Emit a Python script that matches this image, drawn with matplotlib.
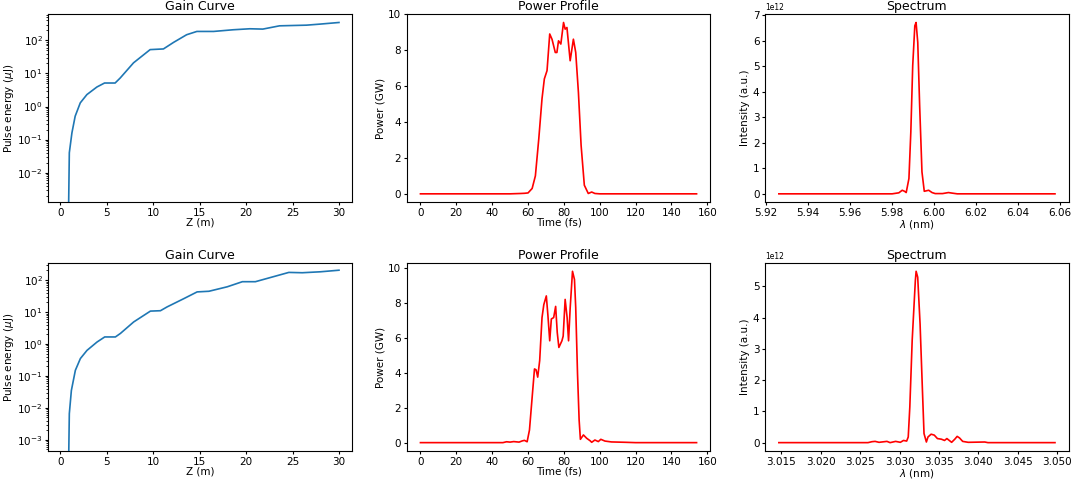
import matplotlib
matplotlib.use("Agg")
import matplotlib.pyplot as plt

# gain curves (z in m, energy in uJ)
z_top = [0.80, 0.97, 1.25, 1.6, 2.15, 2.86, 3.94, 4.76, 5.9, 6.44, 7.88, 9.67, 11.1,
         12.2, 13.6, 14.7, 16.5, 18.6, 20.4, 21.8, 23.6, 26.5, 27.9, 30.0]
e_top = [1e-5, 0.04, 0.16, 0.51, 1.29, 2.29, 3.89, 5.13, 5.13, 7.24, 20.9, 52.5, 55.0,
         87.1, 148, 186, 186, 209, 224, 219, 275, 288, 309, 347]

z_bot = [0.83, 0.97, 1.19, 1.62, 2.16, 2.87, 3.95, 4.78, 5.93, 6.47, 7.9, 9.7, 10.78,
         11.5, 13.3, 14.73, 16.0, 17.97, 19.6, 21.0, 22.6, 24.6, 26.05, 28.0, 30.0]
e_bot = [1e-5, 0.0066, 0.035, 0.15, 0.35, 0.63, 1.15, 1.66, 1.66, 2.14, 4.9, 10.7, 11.0,
         14.5, 26.3, 42.7, 44.7, 61.7, 89.1, 89.1, 120, 174, 170, 182, 204]

# power profiles (time in fs, power in GW)
t_top = [0, 50, 56, 58, 60, 62.3, 64.1, 66, 67.8, 69.1, 70.6, 72.1, 73.4, 75.2, 76.1,
         77, 78.3, 79.8, 80.7, 81.7, 83.5, 85.3, 86.6, 88.1, 89.6, 91.4, 93.6, 95.5,
         97.3, 100, 154]
p_top = [0, 0, 0.02, 0.03, 0.05, 0.3, 1.0, 3.07, 5.3, 6.4, 6.86, 8.9, 8.6, 7.87, 7.87,
         8.52, 8.34, 9.54, 9.17, 9.26, 7.41, 8.61, 7.87, 5.65, 2.7, 0.48, 0.02, 0.1,
         0.02, 0, 0]

t_bot = [0, 46, 48, 50, 52, 55, 56.8, 58, 59.5, 60.8, 62.3, 63.6, 64.5, 65.4, 66.5,
         67.8, 68.8, 70.2, 71.1, 72.1, 73, 74.3, 75.4, 76.3, 77.2, 78.9, 79.6, 80.7,
         81.8, 82.6, 83.5, 84.8, 85.9, 86.6, 87.6, 88.5, 89.2, 90.9, 92.7, 94.6, 95.5,
         97.3, 99.2, 100.6, 102.9, 106.5, 114, 120, 154]
p_bot = [0, 0, 0.05, 0.03, 0.06, 0.03, 0.1, 0.13, 0.05, 0.72, 2.6, 4.22, 4.17, 3.75, 4.7,
         7.16, 7.9, 8.4, 7.27, 5.83, 7.08, 7.16, 7.8, 6.3, 5.45, 5.83, 6.1, 8.2,
         7.16, 5.83, 7.7, 9.81, 9.34, 7.73, 3.94, 1.29, 0.19, 0.44, 0.25, 0.11, 0.02,
         0.15, 0.06, 0.19, 0.09, 0.04, 0.02, 0, 0]

# spectra (wavelength in nm, intensity in 1e12 a.u.)
w_top = [5.9261, 5.980, 5.9832, 5.9848, 5.9859, 5.9867, 5.988, 5.9889, 5.9898, 5.9908,
         5.9914, 5.9922, 5.9931, 5.9942, 5.9953, 5.9974, 5.999, 6.0005, 6.004, 6.0068,
         6.0084, 6.011, 6.0575]
s_top = [0, 0, 0.04, 0.14, 0.1, 0.05, 0.6, 2.42, 5.02, 6.58, 6.71, 5.93, 3.46, 0.86,
         0.1, 0.14, 0.05, 0.01, 0.01, 0.05, 0.03, 0, 0]

w_bot = [3.0147, 3.026, 3.0265, 3.0269, 3.0274, 3.0284, 3.0288, 3.0295, 3.0301, 3.0305,
         3.0309, 3.0311, 3.0313, 3.0316, 3.032, 3.0321, 3.0323, 3.0326, 3.0329, 3.0331,
         3.0334, 3.0336, 3.034, 3.0344, 3.0348, 3.0353, 3.0357, 3.036, 3.0363, 3.0366,
         3.037, 3.0373, 3.0376, 3.038, 3.0387, 3.0408, 3.0412, 3.0497]
s_bot = [0, 0, 0.03, 0.04, 0.01, 0.04, 0, 0.04, 0.01, 0.07, 0.05, 0.18, 1.14, 3.27,
         5.18, 5.48, 5.29, 3.8, 1.67, 0.29, 0.02, 0.18, 0.27, 0.24, 0.13, 0.11, 0.07,
         0.13, 0.07, 0.01, 0.11, 0.2, 0.15, 0.04, 0.01, 0.02, 0, 0]

plt.rcParams["font.size"] = 7.5
plt.rcParams["xtick.major.size"] = 2.5
plt.rcParams["ytick.major.size"] = 2.5
plt.rcParams["xtick.minor.size"] = 1.5
plt.rcParams["ytick.minor.size"] = 1.5
plt.rcParams["xtick.major.pad"] = 1.5
plt.rcParams["ytick.major.pad"] = 1.5

fig, axes = plt.subplots(2, 3, figsize=(10.72, 4.8), dpi=100)
fig.subplots_adjust(left=0.045, right=0.997, bottom=0.06, top=0.971,
                    wspace=0.18, hspace=0.32)

rows = [(z_top, e_top, (1.26e-3, 630), t_top, p_top, w_top, s_top),
        (z_bot, e_bot, (4.4e-4, 350), t_bot, p_bot, w_bot, s_bot)]

for r, (z, e, ylim, t, p, w, s) in enumerate(rows):
    ax = axes[r, 0]
    ax.semilogy(z, e, color="C0", lw=1.2)
    ax.set_xlim(-1.3, 31.4)
    ax.set_ylim(*ylim)
    ax.set_title("Gain Curve", pad=3)
    ax.set_xlabel("Z (m)", labelpad=0)
    ax.set_ylabel(r"Pulse energy ($\mu$J)", labelpad=1)

    ax = axes[r, 1]
    ax.plot(t, p, color="red", lw=1.2)
    ax.set_title("Power Profile", pad=3)
    ax.set_xlabel("Time (fs)", labelpad=0)
    ax.set_ylabel("Power (GW)", labelpad=2)

    ax = axes[r, 2]
    ax.plot(w, [v * 1e12 for v in s], color="red", lw=1.2)
    ax.set_title("Spectrum", pad=3)
    ax.set_xlabel(r"$\lambda$ (nm)", labelpad=0)
    ax.set_ylabel("Intensity (a.u.)", labelpad=2)
    ax.yaxis.get_offset_text().set_fontsize(5.5)

axes[0, 2].set_xticks([5.92, 5.94, 5.96, 5.98, 6.00, 6.02, 6.04, 6.06])

fig.savefig("out.png", dpi=100)
